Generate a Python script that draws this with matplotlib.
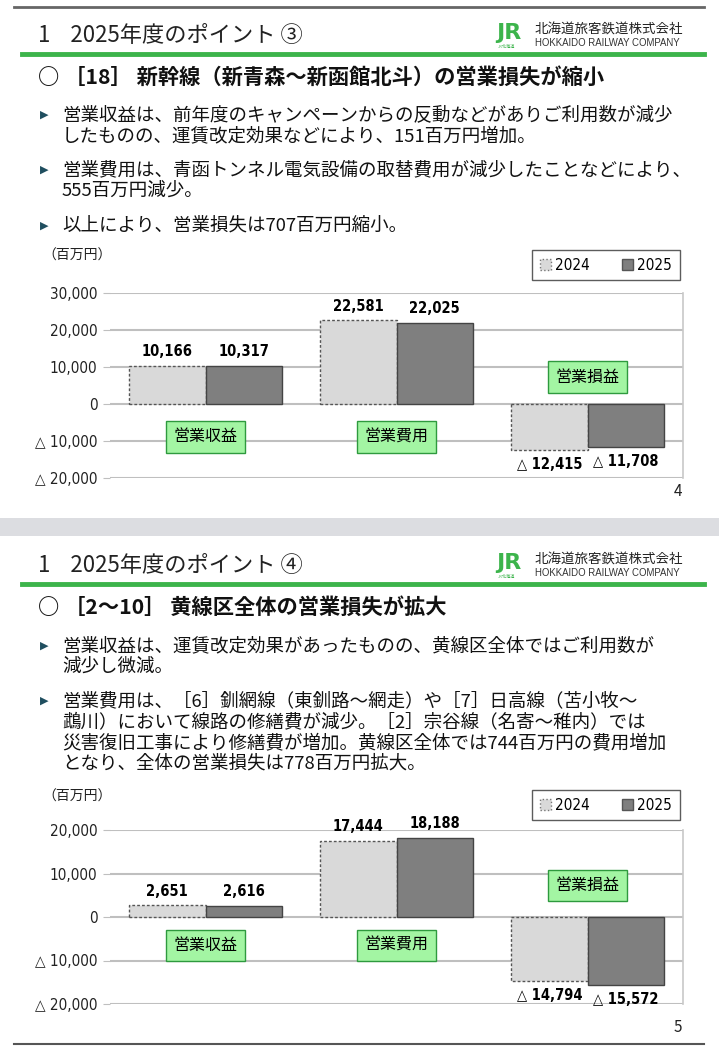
import matplotlib.pyplot as plt
from matplotlib.patches import Patch, Rectangle
from matplotlib.lines import Line2D
from matplotlib.ticker import FuncFormatter

plt.rcParams['font.family'] = ['Noto Sans CJK JP', 'DejaVu Sans']

# ---- data ----
categories = ['営業収益', '営業費用', '営業損益']
years = ['2024', '2025']

shinkansen_2024 = [10166, 22581, -12415]
shinkansen_2025 = [10317, 22025, -11708]
shinkansen_ticks = [30000, 20000, 10000, 0, -10000, -20000]

yellow_2024 = [2651, 17444, -14794]
yellow_2025 = [2616, 18188, -15572]
yellow_ticks = [20000, 10000, 0, -10000, -20000]

slide1_title = '1    2025年度のポイント ③'
slide1_head = '○ ［18］ 新幹線（新青森～新函館北斗）の営業損失が縮小'
slide1_bullets = [
    ['営業収益は、前年度のキャンペーンからの反動などがありご利用数が減少',
     'したものの、運賃改定効果などにより、151百万円増加。'],
    ['営業費用は、青函トンネル電気設備の取替費用が減少したことなどにより、',
     '555百万円減少。'],
    ['以上により、営業損失は707百万円縮小。'],
]
slide2_title = '1    2025年度のポイント ④'
slide2_head = '○ ［2～10］ 黄線区全体の営業損失が拡大'
slide2_bullets = [
    ['営業収益は、運賃改定効果があったものの、黄線区全体ではご利用数が',
     '減少し微減。'],
    ['営業費用は、［6］釧網線（東釧路～網走）や［7］日高線（苫小牧～',
     '鵡川）において線路の修繕費が減少。［2］宗谷線（名寄～稚内）では',
     '災害復旧工事により修繕費が増加。黄線区全体では744百万円の費用増加',
     'となり、全体の営業損失は778百万円拡大。'],
]

W, H = 719, 1054
NUM_FONT = ['DejaVu Sans Condensed', 'DejaVu Sans', 'Noto Sans CJK JP']
GREEN = '#3cb44b'


def fx(x):
    return x / W


def fy(y):
    return 1 - y / H


def fmt(v, pos=None):
    if v < 0:
        return '△ {:,.0f}'.format(-v)
    return '{:,.0f}'.format(v)


fig = plt.figure(figsize=(W / 100, H / 100), dpi=100)
fig.patch.set_facecolor('white')

# gray band between slides
fig.add_artist(Rectangle((0, fy(536)), 1, (536 - 518) / H, transform=fig.transFigure,
                         facecolor='#dcdde1', edgecolor='none'))
fig.add_artist(Line2D([fx(14), fx(704)], [fy(7), fy(7)], color='#666666', lw=2))
fig.add_artist(Line2D([fx(14), fx(704)], [fy(1044), fy(1044)], color='#555555', lw=1.5))


def header(y0, title, head):
    fig.text(fx(38), fy(y0 + 35), title, fontsize=16, va='center', color='#222222')
    fig.text(fx(496), fy(y0 + 33), 'JR', fontsize=16, fontweight='bold', color=GREEN,
             va='center', family=['DejaVu Sans'])
    fig.text(fx(498), fy(y0 + 47), 'JR北海道', fontsize=3, color=GREEN, va='center')
    fig.text(fx(535), fy(y0 + 30), '北海道旅客鉄道株式会社', fontsize=9.7, va='center', color='#222222')
    fig.text(fx(535), fy(y0 + 43), 'HOKKAIDO RAILWAY COMPANY', fontsize=6.9, va='center',
             color='#333333', family=['Liberation Sans'])
    fig.add_artist(Line2D([fx(22), fx(704)], [fy(y0 + 54), fy(y0 + 54)], color=GREEN, lw=3.5))
    fig.text(fx(38), fy(y0 + 77), head, fontsize=15.3, fontweight='bold', va='center', color='#111111')


def bullets(y_list, groups):
    k = 0
    for g in groups:
        for i, line in enumerate(g):
            y = y_list[k]
            if i == 0:
                fig.text(fx(40), fy(y), '▶', fontsize=8, va='center', color='#1f4e5f',
                         family=['DejaVu Sans'])
            fig.text(fx(62), fy(y), line, fontsize=13.3, va='center', color='#111111')
            k += 1


def chart(rect, v24, v25, ticks, ylim, box_y, loss_y, legend_y):
    ax = fig.add_axes(rect)
    x = range(len(categories))
    w = 0.4
    b1 = ax.bar([i - w / 2 for i in x], v24, width=w, color='#d9d9d9', edgecolor='#555555',
                linestyle=(0, (2, 1.5)), linewidth=1.0, label=years[0], zorder=3)
    b2 = ax.bar([i + w / 2 for i in x], v25, width=w, color='#7f7f7f', edgecolor='#444444',
                linewidth=1.0, label=years[1], zorder=3)
    for bars in (b1, b2):
        for r in bars:
            v = r.get_height()
            cx = r.get_x() + r.get_width() / 2
            if v >= 0:
                ax.annotate(fmt(v), (cx, v), xytext=(0, 5), textcoords='offset points',
                            ha='center', va='bottom', fontsize=10.5, fontweight='bold',
                            family=NUM_FONT, fontstretch='condensed')
            else:
                ax.annotate(fmt(v), (cx, v), xytext=(0, -5), textcoords='offset points',
                            ha='center', va='top', fontsize=10.5, fontweight='bold',
                            family=NUM_FONT, fontstretch='condensed')
    ax.set_xlim(-0.5, len(categories) - 0.5)
    ax.set_ylim(*ylim)
    ax.set_yticks(ticks)
    ax.yaxis.set_major_formatter(FuncFormatter(fmt))
    ax.set_xticks([])
    for t in ax.get_yticklabels():
        t.set_family(NUM_FONT)
        t.set_fontstretch('condensed')
        t.set_fontsize(11)
        t.set_color('#222222')
    ax.tick_params(axis='y', length=5, color='#bfbfbf', pad=4)
    ax.grid(axis='y', color='#bfbfbf', lw=1.5, zorder=0)
    for s in ax.spines.values():
        s.set_color('#c8c8c8')
        s.set_linewidth(1.2)
    ax.spines['left'].set_visible(False)
    ax.spines['top'].set_visible(False)
    ax.spines['bottom'].set_visible(False)

    box = dict(boxstyle='square,pad=0.45', facecolor='#a3f5a3', edgecolor='#2e9a3e', lw=1)
    for i, c in enumerate(categories):
        yy = loss_y if i == 2 else box_y
        ax.text(i, yy, c, ha='center', va='center', fontsize=11.5, bbox=box, zorder=5)

    leg = ax.legend(handles=[Patch(facecolor='#d9d9d9', edgecolor='#777777', linestyle=':', label=years[0]),
                             Patch(facecolor='#7f7f7f', edgecolor='#555555', label=years[1])],
                    ncol=2, loc='upper right', bbox_to_anchor=(fx(680), fy(legend_y)),
                    bbox_transform=fig.transFigure, fancybox=False, edgecolor='#333333',
                    handlelength=0.7, handleheight=0.7, handletextpad=0.3, columnspacing=2.1,
                    borderpad=0.5, borderaxespad=0, frameon=True,
                    prop={'family': NUM_FONT, 'stretch': 'condensed', 'size': 11})
    leg.get_frame().set_linewidth(1.0)
    return ax


# ---- slide 1 ----
header(0, slide1_title, slide1_head)
bullets([115, 136, 170, 191, 226], slide1_bullets)
fig.text(fx(42), fy(256), '（百万円）', fontsize=10, va='center', color='#222222')
chart([fx(110), fy(478), (683 - 110) / W, (478 - 293) / H],
      shinkansen_2024, shinkansen_2025, shinkansen_ticks, (-20000, 30000),
      -8900, 7300, 250)
fig.text(fx(682), fy(492), '4', fontsize=11, ha='right', va='center', color='#222222')

# ---- slide 2 ----
header(530, slide2_title, slide2_head)
bullets([646, 667, 701, 722, 743, 764], slide2_bullets)
fig.text(fx(42), fy(797), '（百万円）', fontsize=10, va='center', color='#222222')
chart([fx(110), fy(1004), (683 - 110) / W, (1004 - 830) / H],
      yellow_2024, yellow_2025, yellow_ticks, (-20000, 20000),
      -6500, 7200, 790)
fig.text(fx(682), fy(1027), '5', fontsize=11, ha='right', va='center', color='#222222')

fig.savefig('out.png', dpi=100)
